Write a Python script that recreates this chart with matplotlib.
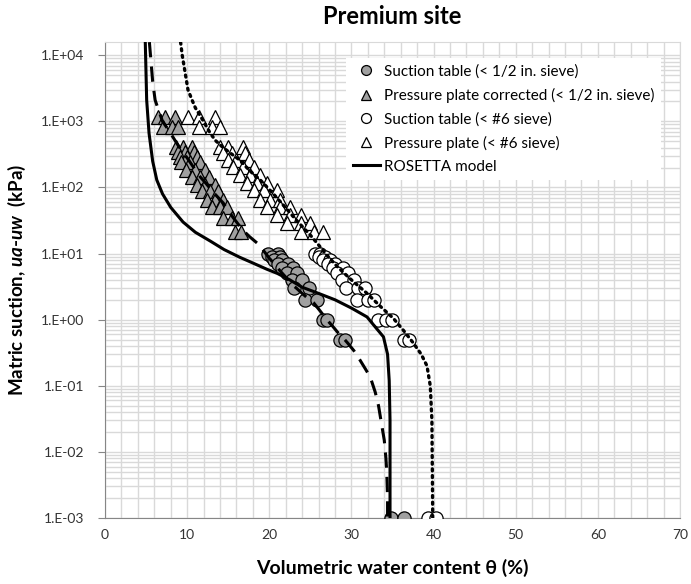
import matplotlib
matplotlib.use("Agg")
import matplotlib.pyplot as plt
from matplotlib.ticker import FixedLocator, MultipleLocator, FuncFormatter, NullFormatter
import numpy as np

#------------------------------------
# Measured data (theta in %, suction in kPa)
#------------------------------------
# suction table, < 1/2 in. sieve
st_half_theta = [19.8, 21.0, 20.3, 21.3, 20.6, 21.6, 21.1, 22.3, 21.6, 22.9, 22.2, 23.4,
                 22.8, 24.0, 23.0, 24.8, 24.4, 25.8, 26.6, 27.0, 28.6, 29.2, 34.8, 36.4]
st_half_psi = [10, 10, 9, 9, 8, 8, 7, 7, 6, 6, 5, 5,
               4, 4, 3, 3, 2, 2, 1, 1, 0.5, 0.5, 0.001, 0.001]

# pressure plate corrected, < 1/2 in. sieve
pp_half_theta = [6.4, 7.3, 8.5, 7.1, 8.1, 8.9, 8.7, 9.5, 10.6, 8.9, 9.7, 10.8,
                 9.1, 10.0, 11.2, 9.3, 10.4, 11.6, 9.9, 11.0, 12.2, 10.6, 11.6, 12.6,
                 11.2, 12.2, 13.4, 11.8, 12.8, 13.8, 12.4, 13.4, 14.4, 13.0, 14.0, 14.8,
                 14.4, 15.4, 16.2, 15.8, 16.6]
pp_half_psi = [1150, 1150, 1150, 830, 830, 830, 414, 414, 414, 350, 350, 350,
               292, 292, 292, 246, 246, 246, 184, 184, 184, 146, 146, 146,
               109, 109, 109, 87, 87, 87, 65, 65, 65, 51, 51, 51,
               34, 34, 34, 21, 21]

# suction table, < #6 sieve
st_six_theta = [25.6, 26.2, 26.0, 26.8, 26.6, 27.4, 27.2, 28.0, 27.8, 29.0, 28.3, 29.6,
                28.8, 30.3, 29.3, 30.8, 31.6, 30.7, 32.0, 32.8, 33.2, 34.2, 35.0,
                36.4, 37.0, 39.3, 40.3]
st_six_psi = [10, 10, 9, 9, 8, 8, 7, 7, 6, 6, 5, 5,
              4, 4, 3, 3, 3, 2, 2, 2, 1, 1, 1,
              0.5, 0.5, 0.001, 0.001]

# pressure plate, < #6 sieve
pp_six_theta = [10.1, 11.4, 13.4, 11.4, 13.0, 14.0, 14.0, 15.0, 16.8, 14.4, 15.4, 17.1,
                15.0, 16.0, 17.5, 15.6, 16.8, 18.1, 16.4, 17.7, 18.9, 17.3, 18.5, 19.7,
                18.1, 19.3, 20.9, 18.9, 20.1, 21.3, 19.7, 21.3, 22.5, 20.9, 22.5, 23.8,
                22.1, 23.8, 25.0, 23.8, 25.4, 26.6]
pp_six_psi = [1150, 1150, 1150, 830, 830, 830, 414, 414, 414, 329, 329, 329,
              261, 261, 261, 206, 206, 206, 155, 155, 155, 116, 116, 116,
              92, 92, 92, 65, 65, 65, 51, 51, 51, 38, 38, 38,
              29, 29, 29, 21, 21, 21]

# fitted curves
fit_half_theta = [5.4, 5.6, 5.8, 6.1, 6.5, 7.0, 7.7, 8.5, 9.2, 10.0, 10.8, 11.6, 12.3,
                  13.0, 13.7, 14.4, 15.0, 15.6, 16.2, 16.8, 17.6, 18.5, 19.2, 20.0,
                  20.7, 21.3, 22.0, 22.5, 23.3, 24.0, 24.7, 25.4, 26.2, 27.0, 27.7,
                  28.3, 29.0, 29.5, 30.3, 31.0, 31.7, 32.3, 32.9, 33.3, 33.7, 34.0,
                  34.2, 34.3, 34.4, 34.4]
fit_half_psi = [15800, 8000, 4000, 2100, 1500, 1000, 750, 520, 380, 280, 200, 144, 115,
                90, 72, 58, 45, 35, 28, 22.5, 18, 14.5, 11.5, 8.5,
                6.8, 5.5, 4.4, 3.6, 3.0, 2.5, 2.1, 1.8, 1.35, 1.0, 0.8,
                0.65, 0.53, 0.45, 0.34, 0.25, 0.18, 0.135, 0.08, 0.05, 0.025, 0.015,
                0.008, 0.005, 0.002, 0.001]

fit_six_theta = [9.2, 9.4, 9.7, 10.1, 10.6, 11.0, 12.0, 12.7, 13.4, 14.2, 15.0, 16.4,
                 17.6, 18.9, 20.5, 22.2, 23.2, 24.1, 25.0, 25.8, 27.0, 28.3, 30.0,
                 31.9, 33.5, 35.1, 36.5, 37.5, 38.5, 39.2, 39.6, 39.8, 39.9]
fit_six_psi = [15800, 10000, 6000, 3000, 2100, 1600, 1000, 700, 520, 420, 350, 260,
               180, 130, 80, 46, 33, 25, 19, 14.5, 9.5, 6.3, 4.0,
               2.5, 1.6, 1.05, 0.65, 0.45, 0.3, 0.2, 0.1, 0.03, 0.001]

rosetta_theta = [4.9, 5.07, 5.36, 5.8, 6.3, 7.0, 8.0, 9.5, 11.0, 12.8, 14.5, 16.4, 18.0,
                 19.7, 21.0, 22.5, 24.0, 26.0, 28.0, 30.0, 31.9, 33.0, 33.9, 34.4,
                 34.6, 34.7, 34.7]
rosetta_psi = [15800, 2100, 660, 250, 130, 80, 50, 30, 21, 15.5, 11.5, 8.8, 7.2,
               5.8, 5.0, 4.0, 3.1, 2.5, 2.0, 1.5, 1.1, 0.75, 0.55, 0.3,
               0.12, 0.03, 0.001]

#------------------------------------
# Plot
#------------------------------------
plt.rcParams["font.family"] = ["Lato", "DejaVu Sans"]
plt.rcParams["mathtext.fontset"] = "custom"
plt.rcParams["mathtext.it"] = "Lato:italic:bold"
plt.rcParams["mathtext.rm"] = "Lato:bold"

fig = plt.figure(figsize=(6.91, 5.84), dpi=100)
ax = fig.add_axes([0.152, 0.113, 0.832, 0.815])

gray = "#a0a0a0"
ms_c = 9.5
ms_t = 10.5
ew = 0.9

ax.plot(st_half_theta, st_half_psi, "o", ms=ms_c, mfc=gray, mec="black", mew=ew,
        label="Suction table (< 1/2 in. sieve)", zorder=3)
ax.plot(pp_half_theta, pp_half_psi, "^", ms=ms_t, mfc=gray, mec="black", mew=ew,
        label="Pressure plate corrected (< 1/2 in. sieve)", zorder=3)
ax.plot(st_six_theta, st_six_psi, "o", ms=ms_c, mfc="white", mec="black", mew=ew,
        label="Suction table (< #6 sieve)", zorder=3)
ax.plot(pp_six_theta, pp_six_psi, "^", ms=ms_t, mfc="white", mec="black", mew=ew,
        label="Pressure plate (< #6 sieve)", zorder=3)

ax.plot(fit_half_theta, fit_half_psi, color="black", lw=2.2, dashes=(5, 3), zorder=4)
ax.plot(fit_six_theta, fit_six_psi, color="black", lw=2.4, ls=(0, (0.6, 1.4)),
        dash_capstyle="round", zorder=4)
ax.plot(rosetta_theta, rosetta_psi, color="black", lw=2.2, label="ROSETTA model", zorder=4)

ax.set_yscale("log")
ax.set_xlim(0, 70)
ax.set_ylim(1e-3, 10 ** 4.2)
ax.xaxis.set_major_locator(MultipleLocator(10))
ax.xaxis.set_minor_locator(MultipleLocator(2))
ax.yaxis.set_major_locator(FixedLocator([10.0 ** p for p in range(-3, 5)]))
minor = [m * 10.0 ** p for p in range(-3, 4) for m in range(2, 10)]
ax.yaxis.set_minor_locator(FixedLocator(minor))
ax.yaxis.set_minor_formatter(NullFormatter())
ax.yaxis.set_major_formatter(FuncFormatter(lambda v, pos: "1.E%+03d" % int(round(np.log10(v)))))

ax.grid(which="both", color="#d9d9d9", lw=1.0, zorder=0)
ax.set_axisbelow(True)

for s in ["left", "bottom"]:
    ax.spines[s].set_color("#868686")
for s in ["top", "right"]:
    ax.spines[s].set_color("#d9d9d9")

ax.tick_params(which="major", axis="y", direction="out", length=5, color="#868686",
               labelsize=10, labelcolor="#333333", pad=10)
ax.tick_params(which="major", axis="x", direction="out", length=0, labelsize=10,
               labelcolor="#333333", pad=8)
ax.tick_params(which="minor", length=0)

ax.set_xlabel("Volumetric water content θ (%)", fontsize=14, fontweight="bold", labelpad=13)
ax.set_ylabel(r"Matric suction, $ua$-$uw$  (kPa)", fontsize=13.5, fontweight="bold", labelpad=9)
ax.set_title("Premium site", fontsize=17, fontweight="bold", pad=13)

leg = ax.legend(loc="upper left", bbox_to_anchor=(0.42, 0.966), fontsize=11,
                frameon=True, framealpha=1, edgecolor="none", fancybox=False,
                handlelength=1.8, handletextpad=0.25, labelspacing=0.6,
                markerscale=0.75, borderaxespad=0)
leg.set_zorder(5)

plt.savefig("out.png", dpi=100)
